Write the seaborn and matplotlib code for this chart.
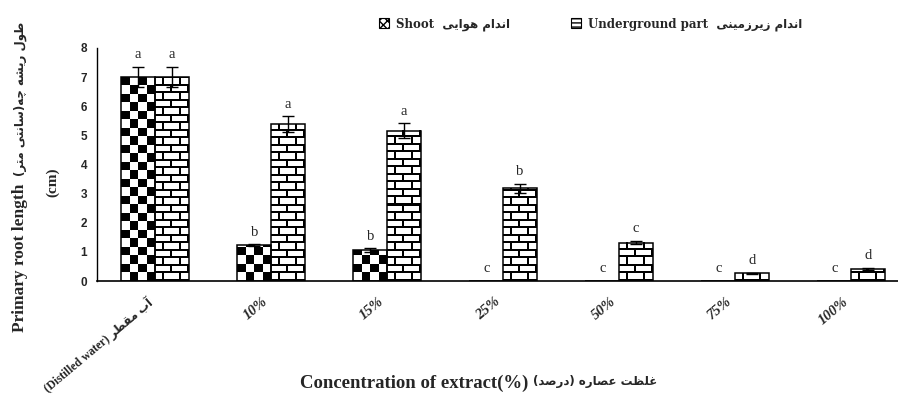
"""
Primary root length vs extract concentration - grouped bars with texture fills
"""
import numpy as np
import pandas as pd
import matplotlib
matplotlib.use("Agg")
import matplotlib.pyplot as plt
import seaborn as sns
from matplotlib.patches import Patch
from matplotlib.font_manager import FontProperties
from matplotlib.transforms import ScaledTranslation

# ---------------------------------------------------------------
# data
# ---------------------------------------------------------------
conc = ["water", "10%", "15%", "25%", "50%", "75%", "100%"]
shoot_len = [7.0, 1.23, 1.05, 0.0, 0.0, 0.0, 0.0]
shoot_err = [0.35, 0.03, 0.07, 0.0, 0.0, 0.0, 0.0]
under_len = [7.0, 5.38, 5.16, 3.18, 1.32, 0.27, 0.41]
under_err = [0.35, 0.27, 0.25, 0.16, 0.06, 0.02, 0.03]
shoot_grp = ["a", "b", "b", "c", "c", "c", "c"]
under_grp = ["a", "a", "a", "b", "c", "d", "d"]

SHOOT_FA = "اندام هوایی"
UNDER_FA = "اندام زیرزمینی"
YLAB_FA = "طول ریشه چه(سانتی متر)"
XLAB_FA = "غلظت عصاره (درصد)"
WATER_FA = "آب مقطر"

# ---------------------------------------------------------------
# tiny persian shaper (no arabic_reshaper / bidi available)
# forms: isolated, final, initial, medial
# ---------------------------------------------------------------
FORMS = {
    "ا": ("\uFE8D", "\uFE8E"), "آ": ("\uFE81", "\uFE82"),
    "د": ("\uFEA9", "\uFEAA"), "ر": ("\uFEAD", "\uFEAE"),
    "ز": ("\uFEAF", "\uFEB0"), "و": ("\uFEED", "\uFEEE"),
    "ب": ("\uFE8F", "\uFE90", "\uFE91", "\uFE92"),
    "ت": ("\uFE95", "\uFE96", "\uFE97", "\uFE98"),
    "س": ("\uFEB1", "\uFEB2", "\uFEB3", "\uFEB4"),
    "ش": ("\uFEB5", "\uFEB6", "\uFEB7", "\uFEB8"),
    "ص": ("\uFEB9", "\uFEBA", "\uFEBB", "\uFEBC"),
    "ط": ("\uFEC1", "\uFEC2", "\uFEC3", "\uFEC4"),
    "ظ": ("\uFEC5", "\uFEC6", "\uFEC7", "\uFEC8"),
    "ع": ("\uFEC9", "\uFECA", "\uFECB", "\uFECC"),
    "غ": ("\uFECD", "\uFECE", "\uFECF", "\uFED0"),
    "ق": ("\uFED5", "\uFED6", "\uFED7", "\uFED8"),
    "ل": ("\uFEDD", "\uFEDE", "\uFEDF", "\uFEE0"),
    "م": ("\uFEE1", "\uFEE2", "\uFEE3", "\uFEE4"),
    "ن": ("\uFEE5", "\uFEE6", "\uFEE7", "\uFEE8"),
    "ه": ("\uFEE9", "\uFEEA", "\uFEEB", "\uFEEC"),
    "ی": ("\uFEEF", "\uFEF0", "\uFEF3", "\uFEF4"),
    "چ": ("\uFB7A", "\uFB7B", "\uFB7C", "\uFB7D"),
}


def fa(s):
    out = []
    for i, c in enumerate(s):
        if c not in FORMS:
            out.append(c)
            continue
        prev = s[i - 1] if i > 0 else ""
        nxt = s[i + 1] if i + 1 < len(s) else ""
        jp = prev in FORMS and len(FORMS[prev]) == 4
        jn = len(FORMS[c]) == 4 and nxt in FORMS
        f = FORMS[c]
        if jp and jn:
            out.append(f[3])
        elif jp:
            out.append(f[1])
        elif jn:
            out.append(f[2])
        else:
            out.append(f[0])
    mirror = {"(": ")", ")": "("}
    return "".join(mirror.get(c, c) for c in reversed(out))


tick_labels = ["(Distilled water) " + fa(WATER_FA)] + conc[1:]

df = pd.DataFrame({
    "conc": conc * 2,
    "part": ["Shoot"] * len(conc) + ["Underground"] * len(conc),
    "length": shoot_len + under_len,
})

sns.set_style("white")
MIX = ["Liberation Serif", "DejaVu Sans"]

fig = plt.figure(figsize=(8.98, 4.01), dpi=100)
ax = fig.add_axes([97 / 898, 1 - 281 / 401, 801 / 898, 233 / 401])

sns.barplot(data=df, x="conc", y="length", hue="part", order=conc,
            hue_order=["Shoot", "Underground"], palette=["white", "white"],
            width=0.58, gap=0, errorbar=None, legend=False,
            edgecolor="black", linewidth=1.1, ax=ax)

XLIM = (-0.5, 6.405)
ax.set_xlim(*XLIM)
ax.set_ylim(0, 8)


# ---------------------------------------------------------------
# texture fills (checkerboard / brick)
# ---------------------------------------------------------------
def checker(h, w):
    yy, xx = np.mgrid[0:h, 0:w]
    cell = w / 4
    return 1.0 - (((xx / cell).astype(int) + (yy / cell).astype(int)) % 2)


def brick(h, w):
    yy, xx = np.mgrid[0:h, 0:w]
    rh, bw = 7.5, w / 2
    row = (yy / rh).astype(int)
    horiz = (yy % rh) < 2
    shift = (0.36 + 0.5 * (row % 2)) * bw
    vert = ((xx - shift) % bw) < 2
    return np.where(horiz | vert, 0.0, 1.0)


series = [(shoot_len, shoot_err, shoot_grp, checker),
          (under_len, under_err, under_grp, brick)]

for cont, (vals, errs, grps, tex_fn) in zip(ax.containers, series):
    xs = []
    for bar in cont:
        x0, w, h = bar.get_x(), bar.get_width(), bar.get_height()
        xs.append(x0 + w / 2)
        if h <= 0:
            continue
        p0 = ax.transData.transform((x0, 0))
        p1 = ax.transData.transform((x0 + w, h))
        wpx = max(int(round(p1[0] - p0[0])), 1)
        hpx = max(int(round(p1[1] - p0[1])), 1)
        ax.imshow(tex_fn(hpx, wpx), cmap="gray", vmin=0, vmax=1,
                  extent=(x0, x0 + w, 0, h), origin="lower",
                  interpolation="nearest", aspect="auto", zorder=1.5)
        bar.set_facecolor("none")
        bar.set_zorder(2)

    xs = np.array(xs)
    v = np.array(vals)
    e = np.array(errs)
    m = e > 0
    ax.errorbar(xs[m], v[m], yerr=e[m], fmt="none", ecolor="black",
                elinewidth=1, capsize=4, capthick=1, zorder=4)
    for x, val, err, g in zip(xs, vals, errs, grps):
        ax.text(x, val + err + 0.42, g, ha="center", va="center",
                fontfamily="Liberation Serif", fontsize=10.5)

ax.set_xlim(*XLIM)
ax.set_ylim(0, 8)

# ---------------------------------------------------------------
# axes styling
# ---------------------------------------------------------------
sns.despine(ax=ax)
ax.spines["left"].set_color("black")
ax.spines["left"].set_linewidth(1)
ax.spines["bottom"].set_color("black")
ax.spines["bottom"].set_linewidth(1.2)

ax.set_yticks(range(0, 9))
ax.set_yticklabels([str(i) for i in range(0, 9)],
                   fontfamily="Liberation Sans", fontweight="bold", fontsize=8.5)
ax.tick_params(axis="y", direction="out", length=4, width=1, color="black", pad=3)

ax.set_xticks(range(len(conc)))
ax.set_xticklabels(tick_labels, rotation=40, ha="right", rotation_mode="anchor",
                   fontfamily=MIX, fontweight="bold", fontstyle="italic", fontsize=10.5)
ax.tick_params(axis="x", length=0, pad=10)
shift = ScaledTranslation(-9 / 100, 0, fig.dpi_scale_trans)
for i, lab in enumerate(ax.get_xticklabels()):
    lab.set_transform(lab.get_transform() + shift)
    if i == 0:
        # the persian glyphs only exist in the upright face
        lab.set_fontstyle("normal")
        lab.set_fontsize(8.5)
ax.set_xlabel("")
ax.set_ylabel("")

# y label: english + persian on one line, (cm) on a second line
fig.text(20 / 898, 1 - 332 / 401, "Primary root length",
         rotation=90, ha="center", va="bottom", fontfamily="Liberation Serif",
         fontweight="bold", fontsize=12.5)
fig.text(20 / 898, 1 - 176 / 401, fa(YLAB_FA),
         rotation=90, ha="center", va="bottom", fontfamily="DejaVu Sans",
         fontweight="bold", fontsize=8.5)
fig.text(53 / 898, 1 - 182 / 401, "(cm)",
         rotation=90, ha="center", va="center", fontfamily="Liberation Serif",
         fontweight="bold", fontsize=11)

fig.text(528 / 898, 1 - 383 / 401, "Concentration of extract(%)",
         ha="right", va="center", fontfamily="Liberation Serif",
         fontweight="bold", fontsize=13.5)
fig.text(533 / 898, 1 - 382 / 401, fa(XLAB_FA),
         ha="left", va="center", fontfamily="DejaVu Sans",
         fontweight="bold", fontsize=8.5)

plt.rcParams["hatch.linewidth"] = 1.0
handles = [Patch(facecolor="white", edgecolor="black", hatch="xxxx", linewidth=0.8),
           Patch(facecolor="white", edgecolor="black", hatch="----", linewidth=0.8)]
fig.legend(handles, ["Shoot  " + fa(SHOOT_FA), "Underground part  " + fa(UNDER_FA)],
           loc="center left", bbox_to_anchor=(374 / 898, 1 - 24 / 401),
           ncol=2, frameon=False, handlelength=0.9, handleheight=0.9,
           handletextpad=0.6, columnspacing=5.1, borderaxespad=0,
           prop=FontProperties(family=["DejaVu Serif", "DejaVu Sans"],
                               weight="bold", size=8.5))

fig.savefig("out.png", dpi=100)
plt.close(fig)
